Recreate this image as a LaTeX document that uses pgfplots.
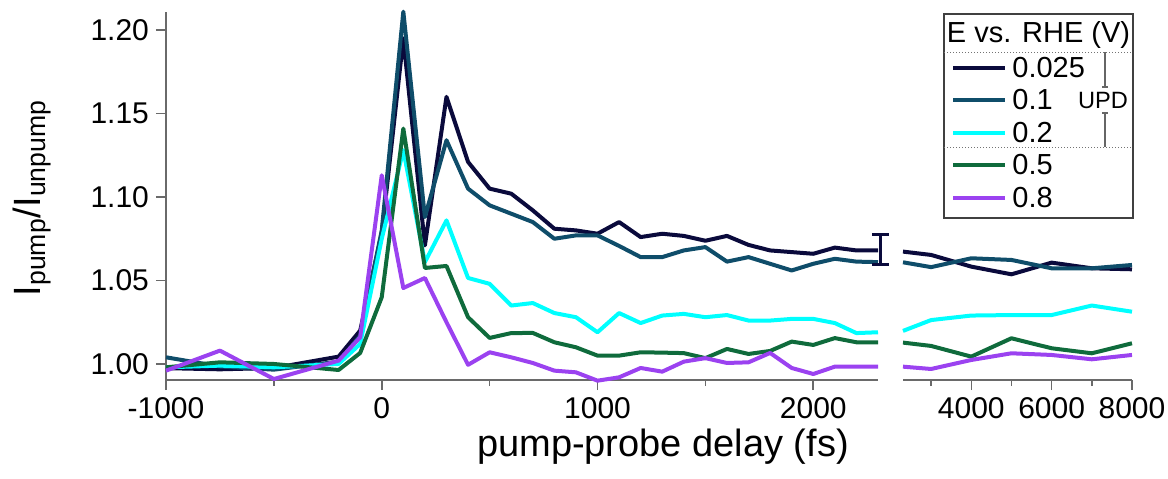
\documentclass[border=0pt]{standalone}
\usepackage{fontspec}
\setmainfont{Liberation Sans}
\usepackage{pgfplots}
\usepackage{pgfplotstable}
\pgfplotsset{compat=1.18}
\definecolor{c1}{HTML}{0A0A3C}
\definecolor{c2}{HTML}{0F4D6A}
\definecolor{c3}{HTML}{00FFFF}
\definecolor{c4}{HTML}{0F6B3C}
\definecolor{c5}{HTML}{9B42F0}
\definecolor{axisgray}{HTML}{6A6A6A}

\pgfplotstableread{
t a b c d e
-1000 0.9975 1.0040 0.9980 0.9980 0.9960
-750 0.9968 0.9985 0.9990 1.0010 1.0080
-500 0.9976 0.9966 0.9980 1.0000 0.9910
-200 1.0044 1.0014 1.0000 0.9964 1.0020
-100 1.0200 1.0170 1.0120 1.0066 1.0160
0 1.0780 1.0800 1.0750 1.0400 1.1130
100 1.1950 1.2110 1.1280 1.1410 1.0455
200 1.0710 1.0880 1.0610 1.0575 1.0515
300 1.1600 1.1340 1.0860 1.0587 1.0250
400 1.1210 1.1050 1.0515 1.0280 0.9995
500 1.1050 1.0950 1.0480 1.0156 1.0070
600 1.1020 1.0900 1.0350 1.0185 1.0040
700 1.0920 1.0850 1.0365 1.0186 1.0006
800 1.0810 1.0750 1.0305 1.0130 0.9960
900 1.0800 1.0770 1.0280 1.0100 0.9950
1000 1.0780 1.0770 1.0190 1.0050 0.9900
1100 1.0850 1.0707 1.0305 1.0050 0.9920
1200 1.0760 1.0640 1.0245 1.0070 0.9976
1300 1.0780 1.0640 1.0290 1.0068 0.9954
1400 1.0767 1.0680 1.0300 1.0065 1.0014
1500 1.0738 1.0700 1.0280 1.0035 1.0035
1600 1.0767 1.0613 1.0293 1.0090 1.0006
1700 1.0713 1.0640 1.0260 1.0060 1.0010
1800 1.0680 1.0600 1.0260 1.0078 1.0066
1900 1.0670 1.0560 1.0270 1.0134 0.9976
2000 1.0660 1.0600 1.0270 1.0114 0.9940
2100 1.0697 1.0630 1.0245 1.0155 0.9984
2200 1.0680 1.0613 1.0185 1.0130 0.9984
2300 1.0680 1.0610 1.0190 1.0130 0.9984
}\leftdata

\pgfplotstableread{
t a b c d e
2300 1.0673 1.0609 1.0198 1.0128 0.9984
3000 1.0653 1.0580 1.0263 1.0108 0.9970
4000 1.0583 1.0633 1.0290 1.0044 1.0024
5000 1.0537 1.0623 1.0293 1.0154 1.0064
6000 1.0607 1.0573 1.0293 1.0094 1.0054
7000 1.0573 1.0573 1.0350 1.0064 1.0028
8000 1.0567 1.0593 1.0313 1.0124 1.0054
}\rightdata

\begin{document}
\begin{tikzpicture}
\useasboundingbox (-83pt,-49pt) rectangle (501pt,190pt);
\pgfplotsset{
  base/.style={
    scale only axis, height=184pt, ymin=0.9904, ymax=1.2108, clip=false,
    axis line style={draw=axisgray, line width=0.8pt},
    tick style={draw=axisgray, line width=0.8pt},
    tick align=outside, major tick length=5pt, minor tick length=3pt,
    ticklabel style={font=\fontsize{15}{18}\selectfont},
    /pgf/number format/assume math mode=true,
    scaled x ticks=false, scaled y ticks=false,
    xticklabel style={yshift=-1.5pt, inner sep=2pt, /pgf/number format/.cd, fixed, 1000 sep={}},
    every axis plot/.append style={line width=2pt, line join=round, mark=none},
  }
}
\begin{axis}[base, at={(0,0)}, anchor=south west, width=356pt,
  xmin=-1000, xmax=2300,
  axis x line*=bottom, axis y line*=left,
  xtick={-1000,0,1000,2000}, minor xtick={-500,500,1500},
  ytick={1,1.05,1.1,1.15,1.2},
  yticklabel style={/pgf/number format/.cd, fixed, fixed zerofill, precision=2},
]
\addplot[c1] table[x=t, y=a] {\leftdata};
\addplot[c2] table[x=t, y=b] {\leftdata};
\addplot[c3] table[x=t, y=c] {\leftdata};
\addplot[c4] table[x=t, y=d] {\leftdata};
\addplot[c5] table[x=t, y=e] {\leftdata};
\addplot[c1, error bars/.cd, y dir=both, y explicit,
  error bar style={c1, line width=1.5pt},
  error mark options={rotate=90, c1, line width=1.5pt, mark size=4.25pt}]
  coordinates {(2311,1.0683) +- (0,0.009)};
\end{axis}
\begin{axis}[base, at={(368.5pt,0)}, anchor=south west, width=114.5pt,
  xmin=2300, xmax=8000,
  axis x line*=bottom, axis y line=none, ytick=\empty,
  xtick={4000,6000,8000}, minor xtick={3000,5000,7000},
]
\addplot[c1] table[x=t, y=a] {\rightdata};
\addplot[c2] table[x=t, y=b] {\rightdata};
\addplot[c3] table[x=t, y=c] {\rightdata};
\addplot[c4] table[x=t, y=d] {\rightdata};
\addplot[c5] table[x=t, y=e] {\rightdata};
\end{axis}
% axis labels
\node[font=\fontsize{19}{22}\selectfont, inner sep=0pt] at (248.5pt,-33.5pt) {pump-probe delay (fs)};
\node[font=\fontsize{19}{22}\selectfont, rotate=90] at (-67pt,91pt) {I\textsubscript{pump}/I\textsubscript{unpump}};
% legend
\draw[fill=white, draw=black!75, line width=0.8pt] (389pt,81pt) rectangle (483.5pt,183pt);
\node[font=\fontsize{14.5}{17}\selectfont] at (436.25pt,172.5pt) {E vs. RHE (V)};
\draw[densely dotted, black!55, line width=0.5pt] (389pt,164pt) -- (483.5pt,164pt);
\draw[densely dotted, black!55, line width=0.5pt] (389pt,116.5pt) -- (483.5pt,116.5pt);
\foreach \yy/\cc/\tt in {156/c1/0.025, 140/c2/0.1, 123.5/c3/0.2, 107.5/c4/0.5, 91/c5/0.8}{
  \draw[\cc, line width=2pt] (393.5pt,\yy pt) -- (419.5pt,\yy pt);
  \node[anchor=west, font=\fontsize{14.5}{17}\selectfont, inner sep=0pt] at (423pt,\yy pt) {\tt};
}
\draw[black!60, line width=0.6pt] (469.5pt,164pt) -- (469.5pt,146.5pt);
\draw[black!60, line width=0.6pt] (469.5pt,133.5pt) -- (469.5pt,116.5pt);
\draw[black!60, line width=0.6pt] (468pt,146.5pt) -- (471pt,146.5pt);
\draw[black!60, line width=0.6pt] (468pt,133.5pt) -- (471pt,133.5pt);
\node[font=\fontsize{11.8}{13}\selectfont, inner sep=0pt] at (468.5pt,140pt) {UPD};
\end{tikzpicture}
\end{document}
